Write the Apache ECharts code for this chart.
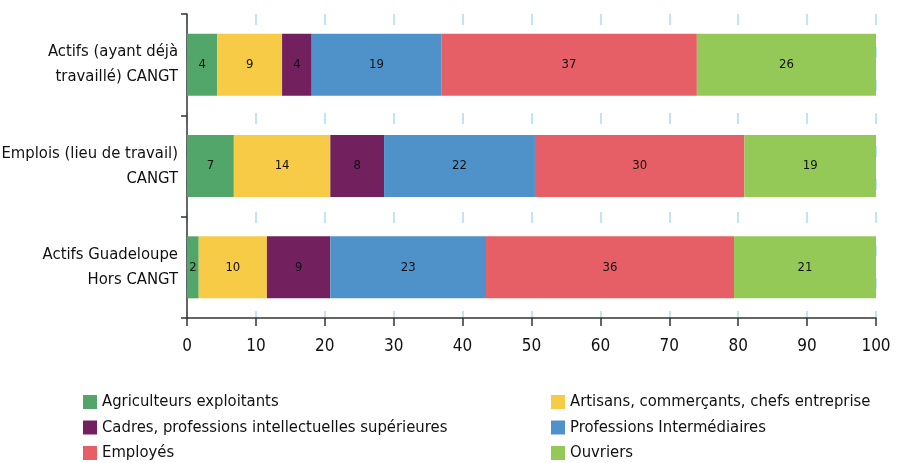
<!DOCTYPE html>
<html>
<head>
<meta charset="utf-8">
<script src="https://cdn.jsdelivr.net/npm/echarts@6/dist/echarts.min.js"></script>
<style>
  html, body { margin: 0; padding: 0; background: #fff; }
  #chart { width: 899px; height: 463px; }
</style>
</head>
<body>
<div id="chart"></div>
<script>
const FONT = '"DejaVu Sans Condensed", "Liberation Sans", sans-serif';

// categories, top to bottom
const categories = [
  'Actifs (ayant déjà\ntravaillé) CANGT',
  'Emplois (lieu de travail)\nCANGT',
  'Actifs Guadeloupe\nHors CANGT',
];

// shares in %, same order as categories
const agriculteurs = [4.4, 6.8, 1.7];
const artisans = [9.4, 14.0, 9.9];
const cadres = [4.3, 7.8, 9.2];
const professions = [18.8, 21.9, 22.6];
const employes = [37.1, 30.4, 36.0];
const ouvriers = [26.0, 19.1, 20.6];

const seriesNames = [
  'Agriculteurs exploitants',
  'Artisans, commerçants, chefs entreprise',
  'Cadres, professions intellectuelles supérieures',
  'Professions Intermédiaires',
  'Employés',
  'Ouvriers',
];
const seriesData = [agriculteurs, artisans, cadres, professions, employes, ouvriers];
const colors = ['#53a66a', '#f7cb45', '#72205e', '#4f92c9', '#e65f66', '#95c957'];

const xTicks = [0, 10, 20, 30, 40, 50, 60, 70, 80, 90, 100];

const myChart = echarts.init(document.getElementById('chart'));

// two vertical legends side by side, like the original two-column key
function legendColumn(left, names) {
  return {
    orient: 'vertical',
    left,
    top: 393,
    height: 80,
    padding: 0,
    icon: 'rect',
    itemWidth: 14,
    itemHeight: 14,
    itemGap: 7.5,
    itemTextGap: 6,
    textStyle: { fontFamily: FONT, fontSize: 16.5, lineHeight: 18, color: '#111' },
    data: names,
  };
}

myChart.setOption({
  animation: false,
  color: colors,
  grid: { left: 187, right: 23, top: 14, bottom: 145, outerBoundsMode: 'none' },
  legend: [
    legendColumn(83, [seriesNames[0], seriesNames[2], seriesNames[4]]),
    legendColumn(551, [seriesNames[1], seriesNames[3], seriesNames[5]]),
  ],
  xAxis: {
    type: 'value',
    min: xTicks[0],
    max: xTicks[xTicks.length - 1],
    interval: 10,
    axisLine: { show: true, lineStyle: { color: '#333', width: 1.5 } },
    axisTick: { show: true, length: 8, lineStyle: { color: '#333', width: 1.5 } },
    axisLabel: { fontFamily: FONT, fontSize: 17, color: '#111', margin: 20 },
    splitLine: {
      show: true,
      lineStyle: { color: '#c3e5f3', width: 2, type: [11, 22] },
    },
  },
  yAxis: {
    type: 'category',
    inverse: true,
    data: categories,
    axisLine: { show: true, lineStyle: { color: '#333', width: 1.5 } },
    axisTick: { show: true, length: 6, lineStyle: { color: '#333', width: 1.5 } },
    axisLabel: {
      fontFamily: FONT,
      fontSize: 16.5,
      lineHeight: 25,
      color: '#111',
      margin: 9,
      align: 'right',
    },
  },
  series: seriesNames.map((name, i) => ({
    name,
    type: 'bar',
    stack: 'total',
    barWidth: 62,
    data: seriesData[i],
    label: {
      show: true,
      position: 'inside',
      color: '#111',
      fontFamily: FONT,
      fontSize: 13,
      formatter: p => Math.round(p.value),
    },
  })),
});
</script>
</body>
</html>
